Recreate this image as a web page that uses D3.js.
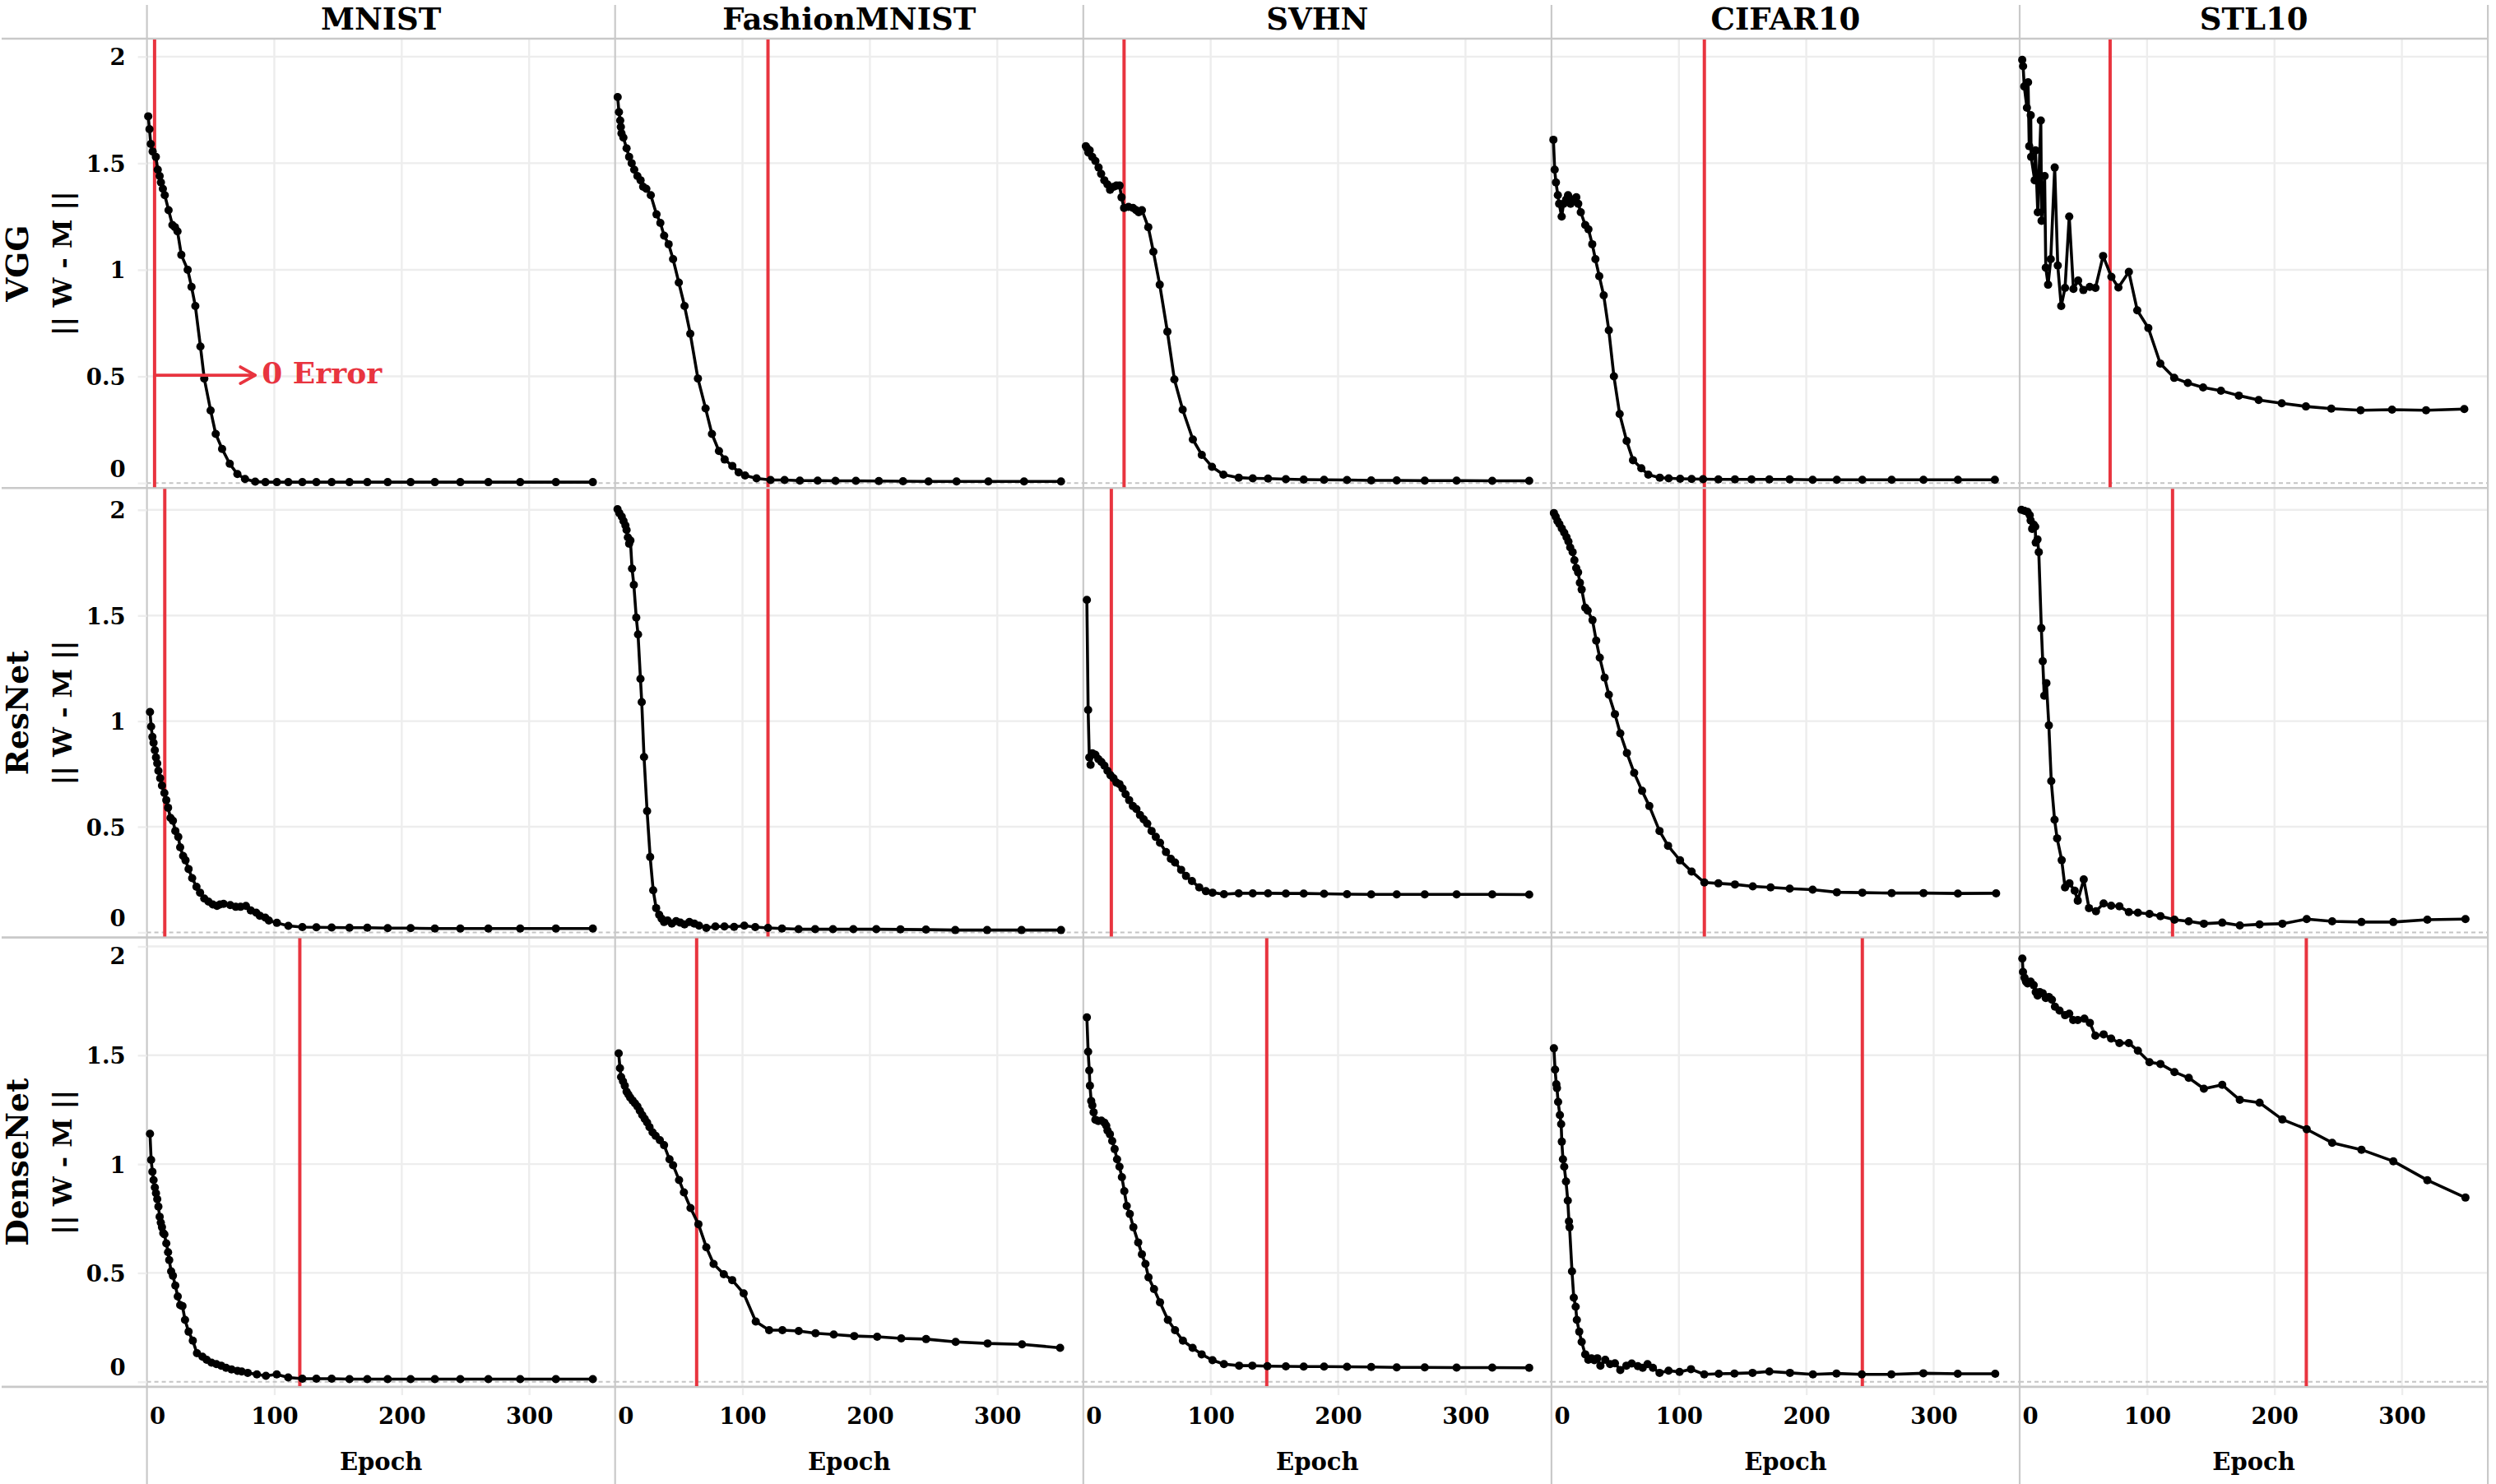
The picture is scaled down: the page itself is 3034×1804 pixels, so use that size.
<!DOCTYPE html>
<html><head><meta charset="utf-8">
<script src="https://cdn.jsdelivr.net/npm/d3@7"></script>
<style>html,body{margin:0;padding:0;background:#fff}</style>
</head><body>
<script>
// ---------------- data ----------------
const datasets = ["MNIST", "FashionMNIST", "SVHN", "CIFAR10", "STL10"];
const models = ["VGG", "ResNet", "DenseNet"];
const yLabel = "|| W - M ||";
const xLabel = "Epoch";
const xTicks = [0, 100, 200, 300];
const yTicks = [0, 0.5, 1, 1.5, 2];

// epoch at which training error first reaches 0 (red lines), rows = models, cols = datasets
const zeroErrVGG = [6, 120, 32, 120, 71];
const zeroErrResNet = [14, 120, 22, 120, 120];
const zeroErrDenseNet = [120, 64, 144, 244, 225];

// [epoch, ||W - M||]
const vggMnist = [[1,1.72],[2,1.66],[3,1.59],[4.5,1.555],[7,1.53],[8.5,1.47],[10,1.44],[11,1.41],[12.5,1.38],[14,1.35],[17,1.28],[20,1.21],[22,1.2],[24,1.18],[27,1.07],[32,1.0],[35,0.92],[38,0.83],[42,0.64],[45,0.49],[50,0.34],[54,0.23],[59,0.16],[65,0.09],[71,0.042],[77,0.019],[85,0.006],[93,0.004],[102,0.004],[111,0.004],[122,0.004],[133,0.004],[145,0.004],[159,0.004],[173,0.004],[189,0.004],[207,0.004],[226,0.004],[246,0.004],[268,0.004],[293,0.004],[321,0.004],[350,0.004]];
const vggFashion = [[2,1.81],[3,1.74],[4,1.70],[4.5,1.67],[5,1.64],[6.5,1.62],[9,1.57],[11,1.53],[13,1.50],[15,1.47],[17.5,1.44],[20,1.42],[22,1.39],[24.5,1.38],[28,1.35],[32.5,1.26],[35.5,1.22],[38.5,1.16],[42,1.12],[45.5,1.05],[50,0.94],[54.5,0.83],[59,0.70],[65,0.49],[71,0.35],[76,0.23],[81.5,0.15],[86,0.11],[92,0.08],[97,0.05],[102,0.035],[111,0.022],[122,0.014],[133,0.014],[145,0.011],[159,0.011],[173,0.01],[189,0.01],[207,0.009],[226,0.008],[246,0.007],[268,0.007],[293,0.007],[321,0.007],[350,0.007]];
const vggSvhn = [[2,1.58],[3,1.57],[4,1.55],[5,1.56],[7,1.53],[9.5,1.51],[12,1.48],[14,1.45],[16.5,1.42],[19,1.40],[21,1.375],[24,1.39],[26,1.395],[28.5,1.395],[30,1.34],[32,1.29],[35.5,1.295],[39,1.29],[41.5,1.28],[43.5,1.27],[46,1.28],[51,1.20],[55,1.085],[60,0.93],[66,0.71],[71.5,0.486],[78,0.344],[86,0.204],[93,0.132],[101,0.076],[110,0.039],[122,0.025],[133,0.022],[145,0.021],[159,0.018],[173,0.016],[189,0.015],[207,0.014],[226,0.012],[246,0.012],[268,0.011],[293,0.011],[321,0.01],[350,0.01]];
const vggCifar = [[1.5,1.61],[2.5,1.47],[3.5,1.41],[5,1.35],[6,1.31],[8,1.25],[9.5,1.31],[11.5,1.33],[13,1.35],[15,1.31],[17,1.33],[19.5,1.34],[21,1.31],[23,1.27],[26.5,1.21],[29,1.19],[32,1.12],[34.5,1.05],[37.5,0.97],[41,0.88],[45,0.716],[49,0.50],[53.5,0.324],[59,0.197],[64,0.107],[70.5,0.069],[76,0.039],[85,0.025],[92,0.022],[101,0.02],[110,0.019],[119,0.018],[131,0.017],[144,0.017],[157,0.017],[171,0.017],[187,0.017],[205,0.015],[224,0.015],[244,0.015],[267,0.015],[292,0.015],[319,0.015],[348,0.015]];
const vggStl = [[2,1.985],[2.7,1.955],[3.6,1.86],[5.7,1.76],[6.6,1.88],[7.5,1.58],[8.7,1.725],[9,1.53],[11.8,1.42],[12.4,1.56],[14.2,1.27],[16.6,1.70],[17.2,1.23],[19.6,1.44],[20.5,1.01],[22.3,0.93],[24.4,1.05],[27.5,1.48],[29.9,1.02],[32.6,0.83],[35.6,0.915],[38.9,1.25],[42.2,0.91],[45.9,0.95],[50,0.905],[55,0.92],[59.5,0.915],[65.5,1.065],[72,0.967],[77.5,0.917],[85.7,0.99],[92.3,0.81],[101,0.727],[110.4,0.56],[121.3,0.493],[132,0.469],[144,0.448],[158,0.433],[172,0.41],[187.6,0.389],[205.7,0.374],[224.7,0.359],[244.6,0.349],[267.6,0.341],[292.3,0.344],[319,0.341],[349,0.347]];

const resMnist = [[2.4,1.043],[3.3,0.974],[4.3,0.925],[5.2,0.897],[6.2,0.862],[7.1,0.828],[8.1,0.80],[9,0.765],[10.4,0.73],[11.8,0.695],[13.7,0.66],[15.2,0.626],[16.6,0.59],[18.5,0.542],[20.4,0.528],[22.3,0.48],[24.6,0.452],[26.1,0.403],[28.4,0.362],[30.3,0.341],[32.7,0.30],[35.5,0.257],[38.9,0.216],[41.7,0.188],[45,0.16],[48.3,0.146],[51.7,0.132],[55,0.125],[57.3,0.132],[60.2,0.135],[65.4,0.129],[69.7,0.121],[73.5,0.121],[77.7,0.125],[81.5,0.104],[85.8,0.093],[88.6,0.079],[92.9,0.07],[95.7,0.056],[102,0.045],[111,0.031],[122,0.025],[133,0.024],[145,0.023],[159,0.022],[173,0.022],[189,0.02],[207,0.02],[226,0.018],[246,0.018],[268,0.018],[293,0.018],[321,0.018],[350,0.018]];
const resFashion = [[1.9,2.003],[3.3,1.985],[5.2,1.968],[6.6,1.947],[8.1,1.926],[9,1.905],[10,1.87],[11,1.84],[12,1.855],[13.3,1.722],[14.7,1.645],[16.6,1.49],[18,1.41],[19.9,1.20],[20.9,1.09],[22.7,0.83],[25.1,0.574],[27.5,0.357],[29.9,0.199],[32.2,0.115],[34.6,0.083],[36.5,0.065],[38.4,0.049],[41.2,0.056],[44.5,0.042],[47.9,0.053],[51.2,0.046],[54.5,0.038],[58.3,0.049],[62.1,0.042],[65.9,0.032],[71.6,0.021],[78.7,0.028],[85.8,0.028],[93.4,0.026],[101.4,0.032],[110,0.025],[120,0.021],[131,0.018],[144,0.015],[157,0.015],[171,0.015],[187,0.015],[205,0.015],[224,0.014],[244,0.013],[267,0.011],[292,0.011],[319,0.011],[350,0.011]];
const resSvhn = [[2.8,1.574],[3.8,1.053],[4.7,0.828],[5.7,0.793],[7.1,0.848],[9.5,0.841],[11.8,0.82],[14.2,0.807],[16.6,0.789],[19,0.765],[21.3,0.744],[23.7,0.73],[26,0.709],[28.4,0.702],[30.8,0.681],[33.2,0.654],[36,0.626],[38.9,0.598],[41.7,0.584],[44.5,0.556],[47.4,0.535],[50.2,0.515],[53.6,0.48],[56.9,0.452],[60.2,0.424],[64.9,0.38],[68.7,0.348],[72,0.331],[76.8,0.296],[80.6,0.267],[85.3,0.243],[91,0.213],[96.2,0.195],[101.4,0.188],[110.4,0.181],[122,0.185],[133,0.185],[145,0.185],[159,0.184],[173,0.184],[189,0.183],[207,0.181],[226,0.18],[246,0.18],[268,0.18],[293,0.18],[321,0.18],[350,0.179]];
const resCifar = [[1.9,1.985],[3.3,1.968],[4.7,1.947],[6.2,1.933],[8.1,1.912],[10,1.892],[11.8,1.871],[13.3,1.85],[14.7,1.822],[16.6,1.80],[18,1.762],[19.4,1.725],[20.9,1.704],[22.3,1.655],[23.7,1.623],[26.5,1.537],[28.4,1.523],[32.2,1.478],[35.1,1.381],[37.9,1.30],[41.7,1.206],[45,1.125],[49.8,1.033],[54,0.942],[59.2,0.849],[64.9,0.755],[71.1,0.67],[76.8,0.598],[84.8,0.48],[91.5,0.41],[100.9,0.341],[110,0.288],[120,0.236],[131,0.232],[144,0.227],[158,0.218],[172,0.213],[187,0.207],[205,0.202],[224,0.19],[244,0.188],[267,0.186],[292,0.186],[319,0.184],[349,0.185]];
const resStl = [[1.4,2.0],[3.8,1.995],[6.2,1.99],[7.9,1.975],[8.6,1.95],[9.8,1.91],[11,1.93],[12.2,1.92],[12.6,1.845],[14,1.86],[15,1.80],[17,1.44],[18.1,1.284],[19.3,1.12],[21,1.18],[22.9,0.98],[24.8,0.716],[27.4,0.533],[29.4,0.445],[33,0.342],[35.6,0.213],[39.1,0.232],[43.2,0.197],[45.6,0.15],[50.3,0.251],[54.4,0.115],[59.9,0.10],[65.9,0.137],[71.8,0.126],[78.3,0.123],[85.7,0.096],[92.8,0.093],[101.9,0.087],[110.5,0.077],[121.5,0.06],[132.7,0.052],[144.6,0.041],[159,0.046],[172.8,0.033],[188.3,0.038],[206.2,0.041],[225.3,0.063],[245.3,0.052],[268.3,0.049],[293.3,0.049],[320,0.06],[349.9,0.063]];

const denseMnist = [[2.4,1.139],[3.3,1.019],[4.3,0.965],[5.2,0.927],[6.2,0.893],[7.1,0.866],[8.1,0.839],[9,0.805],[10,0.758],[10.9,0.731],[11.8,0.71],[12.8,0.683],[13.7,0.677],[15.2,0.636],[16.6,0.595],[17.5,0.559],[19,0.507],[20.4,0.487],[22.3,0.442],[24.2,0.392],[26.1,0.352],[27.9,0.348],[29.9,0.284],[32.7,0.23],[36,0.189],[39.3,0.131],[43.6,0.115],[46.9,0.101],[50.7,0.088],[54.5,0.081],[58.3,0.074],[62.1,0.064],[66.4,0.057],[71.1,0.05],[74.4,0.047],[79.1,0.041],[86.3,0.034],[93.4,0.027],[101.9,0.034],[110.9,0.02],[122,0.014],[133,0.014],[145,0.014],[159,0.012],[173,0.012],[189,0.012],[207,0.012],[226,0.012],[246,0.012],[268,0.012],[293,0.012],[321,0.012],[350,0.012]];
const denseFashion = [[2.8,1.509],[3.8,1.441],[4.7,1.40],[6.2,1.38],[7.6,1.36],[9,1.333],[10.4,1.32],[11.8,1.306],[13.7,1.292],[15.6,1.279],[17.5,1.265],[19.4,1.245],[21.3,1.225],[23.2,1.208],[25.1,1.191],[27,1.17],[29.4,1.146],[31.8,1.13],[35.1,1.11],[38.4,1.087],[42.7,1.022],[45.5,0.995],[50.2,0.927],[54,0.87],[59.2,0.798],[65.4,0.724],[71.6,0.618],[77.3,0.541],[85.3,0.494],[91.9,0.467],[100.9,0.406],[110.4,0.277],[120.9,0.237],[131.3,0.237],[144.1,0.233],[157.3,0.223],[171.6,0.217],[187.7,0.21],[205.7,0.207],[224.6,0.199],[244.1,0.196],[267.3,0.183],[292.4,0.176],[319.4,0.172],[349.3,0.156]];
const denseSvhn = [[2.8,1.674],[3.8,1.516],[4.7,1.43],[5.2,1.36],[6.2,1.29],[7.1,1.27],[8.1,1.238],[9.5,1.204],[11.8,1.198],[14.2,1.20],[16.6,1.19],[18,1.177],[19,1.154],[20.9,1.137],[22.7,1.106],[24.6,1.069],[26.5,1.022],[28.4,0.988],[30.3,0.94],[32.2,0.876],[34.1,0.808],[36.5,0.771],[39.3,0.71],[43.1,0.64],[46,0.586],[48.8,0.541],[51.2,0.48],[55.5,0.426],[60.2,0.365],[66.4,0.284],[72,0.237],[78.2,0.189],[85.8,0.156],[92.9,0.126],[101.4,0.099],[110.4,0.081],[122.3,0.074],[132.7,0.074],[144.5,0.072],[159,0.071],[173,0.07],[189,0.07],[207,0.069],[226,0.068],[246,0.066],[268,0.066],[293,0.065],[321,0.065],[350,0.064]];
const denseCifar = [[1.9,1.532],[2.8,1.434],[3.8,1.367],[4.3,1.349],[5.2,1.286],[6.6,1.225],[7.6,1.184],[8.1,1.103],[9,1.022],[10,0.988],[11.4,0.92],[12.8,0.832],[13.7,0.737],[14.2,0.71],[16.1,0.507],[17.5,0.386],[19,0.345],[19.9,0.284],[21.8,0.23],[23.7,0.183],[26.5,0.126],[28.9,0.101],[31.3,0.108],[33.6,0.099],[36,0.108],[38.4,0.074],[42.2,0.101],[46,0.081],[49.8,0.085],[54,0.054],[58.8,0.074],[63,0.084],[67.8,0.072],[71.6,0.064],[75.4,0.081],[79.6,0.064],[84.8,0.041],[91.9,0.051],[100.5,0.045],[109.5,0.058],[119.9,0.034],[131.3,0.037],[143.6,0.038],[157.8,0.041],[171,0.047],[187.2,0.041],[205.2,0.034],[223.7,0.038],[243.6,0.034],[266.8,0.034],[291.9,0.039],[318.9,0.037],[348.3,0.037]];
const denseStl = [[2.1,1.944],[2.6,1.883],[3.8,1.856],[5,1.838],[6.2,1.83],[8.6,1.838],[11,1.822],[12.6,1.79],[14.1,1.774],[15.8,1.79],[18.1,1.785],[20.5,1.763],[22.9,1.768],[25.3,1.755],[27.7,1.723],[31.3,1.705],[35.6,1.684],[38.9,1.691],[42,1.662],[45.6,1.662],[50.8,1.668],[55.1,1.649],[59.4,1.59],[65.9,1.596],[71.8,1.577],[78.3,1.556],[85.7,1.556],[92.8,1.521],[101.9,1.468],[110.5,1.46],[121.5,1.423],[132.7,1.396],[144.6,1.346],[159,1.364],[172.8,1.295],[188.3,1.282],[206.2,1.205],[225.3,1.16],[245.3,1.098],[268.3,1.066],[293.3,1.013],[320,0.926],[349.9,0.846]];

// annotation in the first panel
const annotText = "0 Error";
const annotValue = 0.5;
const annotArrowEnd = 85;

// ---------------- assemble ----------------
const grid = [
  [vggMnist, vggFashion, vggSvhn, vggCifar, vggStl],
  [resMnist, resFashion, resSvhn, resCifar, resStl],
  [denseMnist, denseFashion, denseSvhn, denseCifar, denseStl]
];
const zeroErr = [zeroErrVGG, zeroErrResNet, zeroErrDenseNet];

// ---------------- layout ----------------
const W = 3034, H = 1804;
const colLeft = 178.6, colW = 569.1;
const rowTop = 47, rowH = 546.3;
const headTop = 6;
const FONT = "'DejaVu Serif', 'Liberation Serif', serif";
const RED = "#e8343f";
const GRID = "#ededed";
const FRAME = "#c9c9c9";
const bottom = rowTop + 3 * rowH;
const rightEdge = colLeft + 5 * colW;
const TICK_FS = 27.5;

const svg = d3.select("body").append("svg")
  .attr("width", W).attr("height", H)
  .attr("viewBox", `0 0 ${W} ${H}`)
  .style("display", "block")
  .style("font-family", FONT);
svg.append("rect").attr("width", W).attr("height", H).attr("fill", "#fff");

const xMax = d3.max(grid.flat().flat(), d => d[0]) * 1.05;
const xScales = datasets.map((_, c) =>
  d3.scaleLinear().domain([0, xMax]).range([colLeft + c * colW, colLeft + (c + 1) * colW]));
const yScales = models.map((_, r) => {
  const M = d3.max(grid[r].flat(), d => d[1]);
  return d3.scaleLinear().domain([-0.012 * M, 1.05 * M]).range([rowTop + (r + 1) * rowH, rowTop + r * rowH]);
});

const gGrid = svg.append("g");
const gFrame = svg.append("g");
const gData = svg.append("g");
const gText = svg.append("g");

// panels
models.forEach((m, r) => {
  const y = yScales[r];
  const top = rowTop + r * rowH, bot = top + rowH;
  datasets.forEach((ds, c) => {
    const x = xScales[c];
    const [xl, xr] = x.range();
    gGrid.selectAll(null).data(xTicks.filter(t => t > 0)).enter().append("line")
      .attr("x1", d => x(d)).attr("x2", d => x(d)).attr("y1", top).attr("y2", bot)
      .attr("stroke", GRID).attr("stroke-width", 2.4);
    gGrid.selectAll(null).data(yTicks.filter(t => t > 0)).enter().append("line")
      .attr("x1", xl).attr("x2", xr).attr("y1", d => y(d)).attr("y2", d => y(d))
      .attr("stroke", GRID).attr("stroke-width", 2.4);
    gGrid.append("line").attr("x1", xl).attr("x2", xr).attr("y1", y(0)).attr("y2", y(0))
      .attr("stroke", "#c4c4c4").attr("stroke-width", 2).attr("stroke-dasharray", "5,4");
    gData.append("line").attr("x1", x(zeroErr[r][c])).attr("x2", x(zeroErr[r][c]))
      .attr("y1", top + 1).attr("y2", bot - 1)
      .attr("stroke", RED).attr("stroke-width", 4);
    const pts = grid[r][c];
    gData.append("path").datum(pts)
      .attr("d", d3.line().x(d => x(d[0])).y(d => y(d[1])))
      .attr("fill", "none").attr("stroke", "#000").attr("stroke-width", 3.6)
      .attr("stroke-linejoin", "round");
    gData.selectAll(null).data(pts).enter().append("circle")
      .attr("cx", d => x(d[0])).attr("cy", d => y(d[1])).attr("r", 5).attr("fill", "#000");
  });

  const ax = svg.append("g").attr("transform", `translate(${colLeft},0)`)
    .call(d3.axisLeft(y).tickValues(yTicks).tickSize(11).tickPadding(15).tickFormat(d3.format("~g")));
  ax.select(".domain").remove();
  ax.selectAll(".tick line").attr("stroke", GRID).attr("stroke-width", 2.4);
  ax.selectAll(".tick text")
    .attr("font-family", FONT).attr("font-size", TICK_FS).attr("font-weight", "bold").attr("fill", "#000")
    .attr("dy", null)
    .attr("dominant-baseline", "central")
    .each(function (d) {
      const t = d3.select(this);
      const pos = y(d);
      if (d === 0) { t.attr("dominant-baseline", "alphabetic").attr("y", -8); }
      else if (pos - top < 16) { t.attr("dominant-baseline", "alphabetic").attr("y", 21); }
    });

  const cy = top + rowH / 2;
  gText.append("text").attr("transform", `translate(34,${cy}) rotate(-90)`)
    .attr("text-anchor", "middle").attr("font-size", 37.5).attr("font-weight", "bold").text(m);
  gText.append("text").attr("transform", `translate(87,${cy}) rotate(-90)`)
    .attr("text-anchor", "middle").attr("font-size", 32).attr("font-weight", "bold").text(yLabel);
});

datasets.forEach((ds, c) => {
  const x = xScales[c];
  const [xl, xr] = x.range();
  const ax = svg.append("g").attr("transform", `translate(0,${bottom + 1})`)
    .call(d3.axisBottom(x).tickValues(xTicks).tickSize(9).tickFormat(d3.format("d")));
  ax.select(".domain").remove();
  ax.selectAll(".tick line").attr("stroke", GRID).attr("stroke-width", 2.4)
    .attr("opacity", d => d === 0 ? 0 : 1);
  ax.selectAll(".tick text")
    .attr("font-family", FONT).attr("font-size", TICK_FS).attr("font-weight", "bold").attr("fill", "#000")
    .attr("dy", null).attr("y", 44)
    .each(function (d) {
      if (d === 0) d3.select(this).attr("text-anchor", "start").attr("x", 3);
    });
  gText.append("text").attr("x", (xl + xr) / 2).attr("y", 1787)
    .attr("text-anchor", "middle").attr("font-size", 29).attr("font-weight", "bold").text(xLabel);
  gText.append("text").attr("x", (xl + xr) / 2).attr("y", 36)
    .attr("text-anchor", "middle").attr("font-size", 37).attr("font-weight", "bold").text(ds);
});

d3.range(6).forEach(i => {
  const xx = colLeft + i * colW;
  gFrame.append("line").attr("x1", xx).attr("x2", xx).attr("y1", headTop).attr("y2", H)
    .attr("stroke", FRAME).attr("stroke-width", 2.2);
});
d3.range(4).forEach(i => {
  const yy = rowTop + i * rowH;
  gFrame.append("line").attr("x1", 2).attr("x2", rightEdge).attr("y1", yy).attr("y2", yy)
    .attr("stroke", FRAME).attr("stroke-width", 2.6);
});

{
  const x = xScales[0], y = yScales[0];
  const gA = svg.append("g").attr("stroke", RED).attr("stroke-width", 3.8).attr("fill", "none")
    .attr("stroke-linecap", "round").attr("stroke-linejoin", "round");
  const x1 = x(zeroErr[0][0]), x2 = x(annotArrowEnd), yy = y(annotValue) - 1.5;
  gA.append("line").attr("x1", x1).attr("x2", x2 - 1).attr("y1", yy).attr("y2", yy);
  gA.append("path").attr("d", `M${x2 - 18},${yy - 10} L${x2},${yy} L${x2 - 18},${yy + 10}`);
  svg.append("text").attr("x", x2 + 8).attr("y", yy + 10)
    .attr("font-size", 36).attr("font-weight", "bold").attr("fill", RED).text(annotText);
}
</script>
</body></html>
